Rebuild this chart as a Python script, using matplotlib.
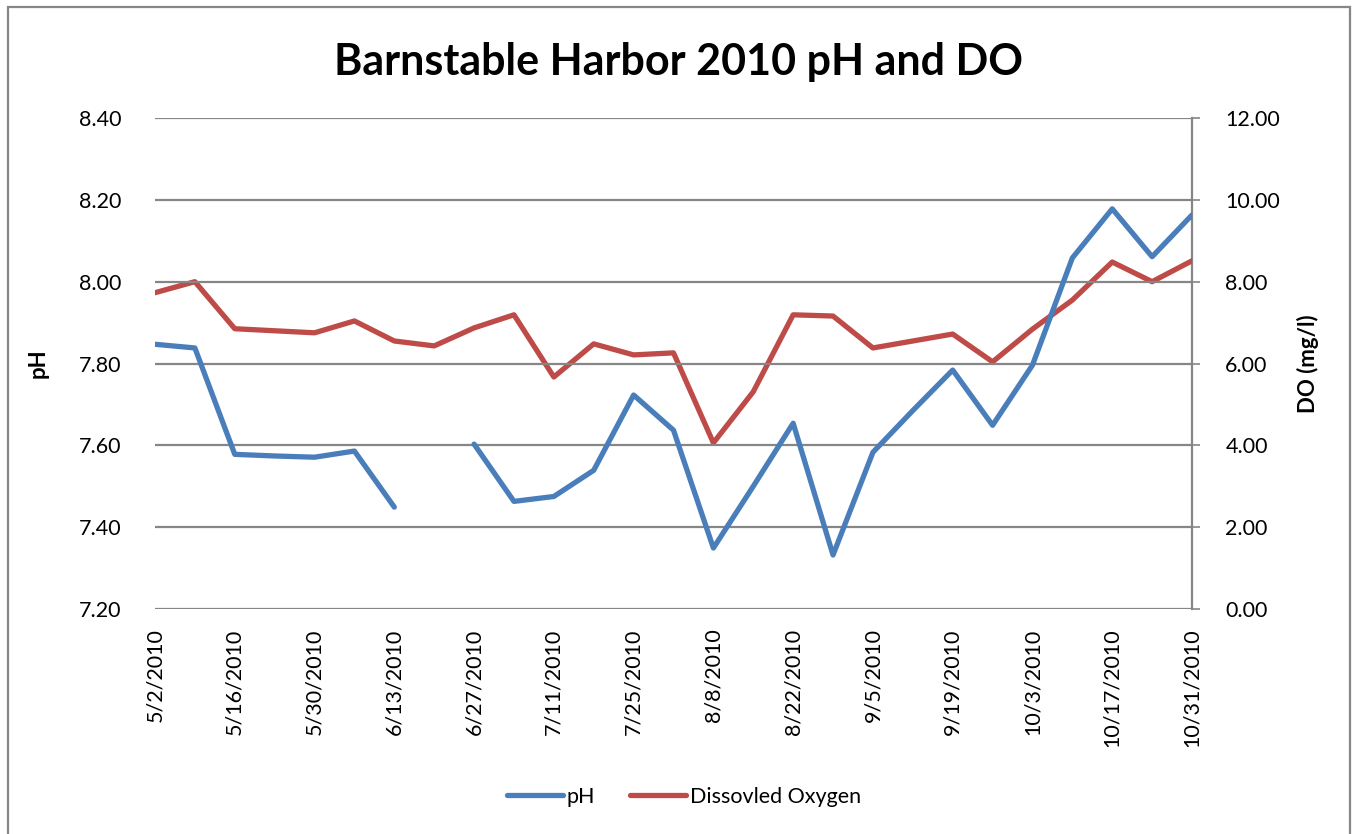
import matplotlib
matplotlib.use("Agg")
from matplotlib import pyplot as plt
import numpy as np
import pandas as pd

plt.rcParams['font.family'] = ['Lato', 'DejaVu Sans']

# weekly sampling dates (6/20 has no pH reading)
dates = pd.date_range("2010-05-02", "2010-10-31", freq="7D")
ph = [7.847, 7.838, 7.578, 7.574, 7.571, 7.586, 7.449, np.nan, 7.603, 7.463,
      7.475, 7.539, 7.723, 7.637, 7.349, 7.500, 7.654, 7.332, 7.583, 7.685,
      7.784, 7.649, 7.796, 8.058, 8.178, 8.061, 8.163]
do = [7.73, 8.00, 6.85, 6.80, 6.75, 7.04, 6.55, 6.43, 6.87, 7.19,
      5.67, 6.48, 6.21, 6.26, 4.06, 5.31, 7.19, 7.16, 6.38, 6.55,
      6.72, 6.04, 6.84, 7.55, 8.48, 8.00, 8.51]

ph_ticks = [7.20, 7.40, 7.60, 7.80, 8.00, 8.20, 8.40]
do_ticks = [0, 2, 4, 6, 8, 10, 12]

blue = "#4A7EBB"
red = "#BE4B48"
grid = "#868686"

fig = plt.figure(figsize=(13.55, 8.34), dpi=100)
ax = fig.add_axes([155/1355, 1-609/834, (1192-155)/1355, (609-118)/834])
ax2 = ax.twinx()

l1, = ax.plot(dates, ph, color=blue, lw=3.8, solid_capstyle='round', solid_joinstyle='round', label="pH", zorder=3)
l2, = ax2.plot(dates, do, color=red, lw=3.8, solid_capstyle='round', solid_joinstyle='round', label="Dissovled Oxygen", zorder=3)
ax.set_zorder(ax2.get_zorder() + 1)
ax.patch.set_visible(False)

ax.set_xlim(dates[0], dates[-1])
ax.set_ylim(7.20, 8.40)
ax2.set_ylim(0, 12)
ax.set_yticks(ph_ticks)
ax.set_yticklabels(["%.2f" % v for v in ph_ticks])
ax2.set_yticks(do_ticks)
ax2.set_yticklabels(["%.2f" % v for v in do_ticks])

xt = dates[::2]
ax.set_xticks(xt)
ax.set_xticklabels([f"{d.month}/{d.day}/{d.year}" for d in xt], rotation=90, fontsize=15.5)

for v in ph_ticks:
    ax.axhline(v, color=grid, lw=1.6, zorder=1)

for s in ax.spines.values():
    s.set_visible(False)
for s in ax2.spines.values():
    s.set_visible(False)
ax2.spines['right'].set_visible(True)
ax2.spines['right'].set_color(grid)
ax2.spines['right'].set_linewidth(1.6)

ax.tick_params(axis='x', length=0, pad=14)
ax.tick_params(axis='y', length=0, pad=24, labelsize=15.5)
ax2.tick_params(axis='y', length=6, width=1.2, color=grid, pad=18, labelsize=15.5)

ax.set_ylabel("pH", fontsize=16, fontweight='bold', labelpad=22)
ax2.set_ylabel("DO (mg/l)", fontsize=16, fontweight='bold', labelpad=12)

fig.text(0.5005, 1-62/834, "Barnstable Harbor 2010 pH and DO", ha='center', va='center',
         fontsize=31, fontweight='bold')

fig.legend(handles=[l1, l2], loc='center', bbox_to_anchor=(684/1355, 1-797/834), ncol=2,
           frameon=False, fontsize=15.5, handlelength=2.6, handletextpad=0.2, columnspacing=1.6)

fig.add_artist(plt.Rectangle((8/1355, -0.01), (1350-8)/1355, 1.01-7/834, transform=fig.transFigure,
                             fill=False, edgecolor=grid, lw=1.6))

fig.savefig("out.png", dpi=100)
